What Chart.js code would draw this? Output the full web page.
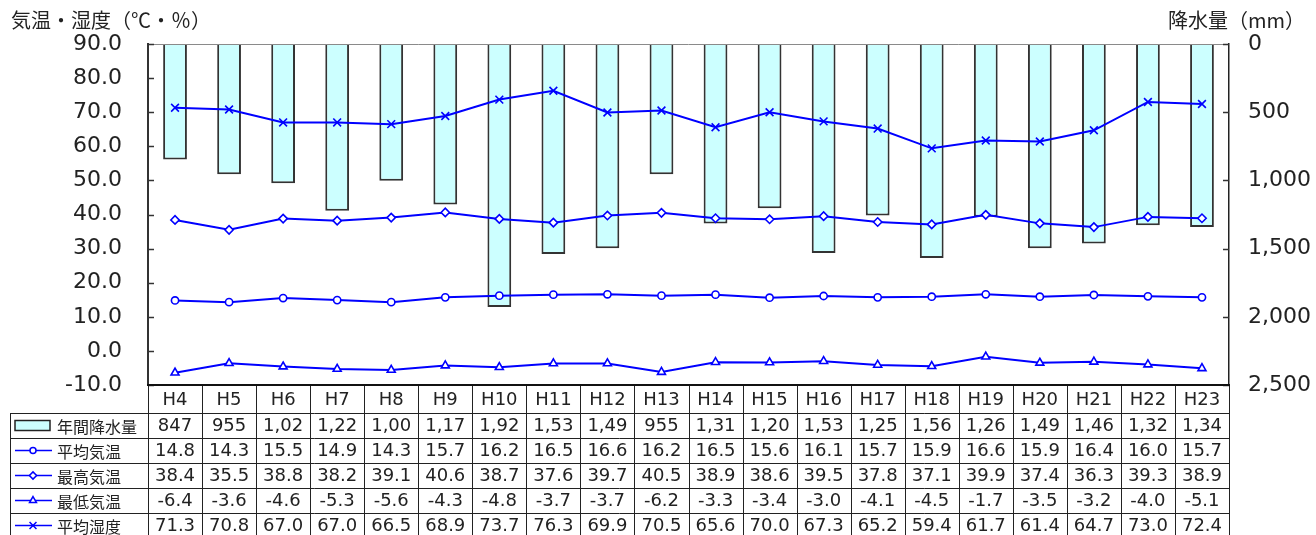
<!DOCTYPE html>
<html>
<head>
<meta charset="utf-8">
<script src="https://cdn.jsdelivr.net/npm/chart.js@4"></script>
<style>
html,body{margin:0;padding:0;background:#fff;}
#wrap{width:1316px;height:535px;}
</style>
</head>
<body>
<div id="wrap"><canvas id="c" width="1316" height="535"></canvas></div>
<script>
// ---- data ----
const categories = ['H4','H5','H6','H7','H8','H9','H10','H11','H12','H13','H14','H15','H16','H17','H18','H19','H20','H21','H22','H23'];
const precipitation = [847,955,1020,1222,1003,1176,1928,1539,1498,955,1316,1204,1532,1257,1568,1266,1497,1462,1328,1342];
const avgTemp = [14.8,14.3,15.5,14.9,14.3,15.7,16.2,16.5,16.6,16.2,16.5,15.6,16.1,15.7,15.9,16.6,15.9,16.4,16.0,15.7];
const maxTemp = [38.4,35.5,38.8,38.2,39.1,40.6,38.7,37.6,39.7,40.5,38.9,38.6,39.5,37.8,37.1,39.9,37.4,36.3,39.3,38.9];
const minTemp = [-6.4,-3.6,-4.6,-5.3,-5.6,-4.3,-4.8,-3.7,-3.7,-6.2,-3.3,-3.4,-3.0,-4.1,-4.5,-1.7,-3.5,-3.2,-4.0,-5.1];
const avgHumidity = [71.3,70.8,67.0,67.0,66.5,68.9,73.7,76.3,69.9,70.5,65.6,70.0,67.3,65.2,59.4,61.7,61.4,64.7,73.0,72.4];
const seriesNames = ['年間降水量','平均気温','最高気温','最低気温','平均湿度'];
const leftTitle = '気温・湿度（℃・％）';
const rightTitle = '降水量（mm）';

const BLUE = '#0000ff';
const NUMFONT = '"DejaVu Sans","Noto Sans CJK JP",sans-serif';
const JPFONT = '"Noto Sans CJK JP","DejaVu Sans",sans-serif';

function fmtPrec(v){ return v.toLocaleString('en-US'); }
function fmtTemp(v){ return v.toFixed(1); }

const lineDs = (label, data, style, radius) => ({
  type: 'line', label, data, yAxisID: 'y', order: 1,
  borderColor: BLUE, borderWidth: 2, backgroundColor: '#fff',
  pointStyle: style, pointRadius: radius, pointBorderColor: BLUE,
  pointBackgroundColor: '#fff', pointBorderWidth: 1.6, tension: 0
});

const datasets = [
  { type:'bar', label: seriesNames[0], data: precipitation, yAxisID:'y2', order: 2,
    backgroundColor:'#ccffff', borderColor:'#333333', borderWidth:2,
    barPercentage:0.44, categoryPercentage:1 },
  lineDs(seriesNames[1], avgTemp, 'circle', 3.6),
  lineDs(seriesNames[2], maxTemp, 'rectRot', 4.2),
  lineDs(seriesNames[3], minTemp, 'triangle', 4.6),
  lineDs(seriesNames[4], avgHumidity, 'crossRot', 5.5)
];

const tablePlugin = {
  id: 'tbl',
  afterDraw(chart) {
    const ctx = chart.ctx, xs = chart.scales.x, a = chart.chartArea;
    const n = categories.length;
    const cw = (a.right - a.left) / n;
    const headTop = a.bottom, headBot = 413, rowH = 25, legLeft = 10;
    const rows = [
      precipitation.map(fmtPrec), avgTemp.map(fmtTemp), maxTemp.map(fmtTemp),
      minTemp.map(fmtTemp), avgHumidity.map(fmtTemp)
    ];
    ctx.save();
    // frame top line
    ctx.strokeStyle = '#8a8a8a'; ctx.lineWidth = 1;
    ctx.beginPath(); ctx.moveTo(a.left, a.top + 0.5); ctx.lineTo(a.right, a.top + 0.5); ctx.stroke();
    // inward ticks
    ctx.strokeStyle = '#333'; ctx.lineWidth = 1.5;
    chart.scales.y.ticks.forEach(t => {
      const y = Math.round(chart.scales.y.getPixelForValue(t.value)) + 0.5;
      ctx.beginPath(); ctx.moveTo(a.left, y); ctx.lineTo(a.left + 6, y); ctx.stroke();
    });
    chart.scales.y2.ticks.forEach(t => {
      const y = Math.round(chart.scales.y2.getPixelForValue(t.value)) + 0.5;
      ctx.beginPath(); ctx.moveTo(a.right - 6, y); ctx.lineTo(a.right, y); ctx.stroke();
    });
    // table grid
    ctx.strokeStyle = '#222'; ctx.lineWidth = 1;
    const bottom = headBot + rowH * rows.length;
    for (let i = 0; i <= n; i++) {
      const x = Math.round(xs.getPixelForValue(i) - cw / 2) + 0.5;
      ctx.beginPath(); ctx.moveTo(x, headTop); ctx.lineTo(x, bottom); ctx.stroke();
    }
    ctx.beginPath(); ctx.moveTo(legLeft + 0.5, headBot); ctx.lineTo(legLeft + 0.5, bottom); ctx.stroke();
    for (let r = 0; r <= rows.length; r++) {
      const y = headBot + r * rowH + 0.5;
      ctx.beginPath(); ctx.moveTo(legLeft, y); ctx.lineTo(a.right, y); ctx.stroke();
    }
    // thick axis line
    ctx.strokeStyle = '#111'; ctx.lineWidth = 2;
    ctx.beginPath(); ctx.moveTo(a.left - 1, headTop); ctx.lineTo(a.right + 1, headTop); ctx.stroke();
    // header labels
    ctx.fillStyle = '#222'; ctx.textAlign = 'center'; ctx.textBaseline = 'middle';
    ctx.font = '18px ' + NUMFONT;
    categories.forEach((c, i) => ctx.fillText(c, xs.getPixelForValue(i), (headTop + headBot) / 2 + 1));
    // values
    rows.forEach((vals, r) => {
      const yc = headBot + r * rowH + rowH / 2 + 1;
      vals.forEach((s, i) => {
        let t = s;
        while (ctx.measureText(t).width > cw - 6 && t.length > 1) t = t.slice(0, -1);
        ctx.fillText(t, xs.getPixelForValue(i), yc);
      });
    });
    // legend column
    ctx.textAlign = 'left';
    ctx.font = '16px ' + JPFONT;
    const styles = [null, 'circle', 'rectRot', 'triangle', 'crossRot'];
    const radii = [0, 3.6, 4.2, 4.6, 5.5];
    seriesNames.forEach((name, r) => {
      const yc = headBot + r * rowH + rowH / 2;
      if (r === 0) {
        ctx.fillStyle = '#ccffff'; ctx.strokeStyle = '#222'; ctx.lineWidth = 1.5;
        ctx.fillRect(15, yc - 5, 35, 10); ctx.strokeRect(15, yc - 5, 35, 10);
      } else {
        ctx.strokeStyle = BLUE; ctx.lineWidth = 1.5;
        ctx.beginPath(); ctx.moveTo(15, yc); ctx.lineTo(52, yc); ctx.stroke();
        ctx.fillStyle = '#fff'; ctx.lineWidth = 1.5;
        Chart.helpers.drawPoint(ctx, { pointStyle: styles[r], radius: radii[r] - 0.6, rotation: 0, borderWidth: 1.5 }, 33, yc);
      }
      ctx.fillStyle = '#222';
      ctx.fillText(name, 57, yc + 1);
    });
    // axis titles
    ctx.font = '20px ' + JPFONT;
    ctx.textBaseline = 'middle';
    ctx.textAlign = 'left';
    ctx.fillText(leftTitle, 11, 20);
    ctx.textAlign = 'right';
    ctx.fillText(rightTitle, 1305, 20);
    ctx.restore();
  }
};

new Chart(document.getElementById('c'), {
  data: { labels: categories, datasets },
  options: {
    responsive: false, animation: false, devicePixelRatio: 1,
    layout: { padding: { top: 44, left: 0, right: 0, bottom: 0 } },
    plugins: { legend: { display: false }, tooltip: { enabled: false } },
    scales: {
      x: {
        ticks: { display: false }, grid: { display: false, drawTicks: false },
        border: { display: false },
        afterFit(s) { s.height = 150; }
      },
      y: {
        position: 'left', min: -10, max: 90,
        ticks: { stepSize: 10, callback: v => Number(v).toFixed(1), color: '#222',
          font: { family: NUMFONT, size: 22 }, padding: 26 },
        grid: { drawOnChartArea: false, drawTicks: false },
        border: { color: '#333', width: 2 },
        afterFit(s) { s.width = 148; }
      },
      y2: {
        position: 'right', min: 0, max: 2500, reverse: true,
        ticks: { stepSize: 500, callback: v => Number(v).toLocaleString('en-US'), color: '#222',
          font: { family: NUMFONT, size: 22 }, padding: 19 },
        grid: { drawOnChartArea: false, drawTicks: false },
        border: { color: '#222', width: 1.5 },
        afterFit(s) { s.width = 87; }
      }
    }
  },
  plugins: [tablePlugin]
});
</script>
</body>
</html>
